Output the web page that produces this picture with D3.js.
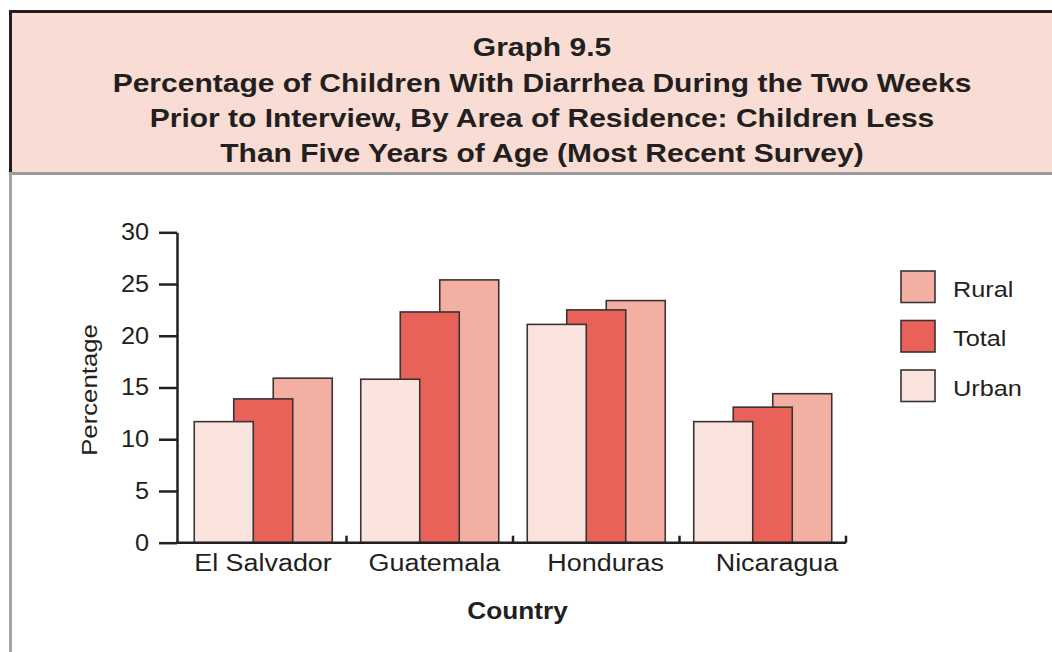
<!DOCTYPE html>
<html>
<head>
<meta charset="utf-8">
<script src="https://cdn.jsdelivr.net/npm/d3@7"></script>
<style>
  html, body { margin: 0; padding: 0; background: #fff; }
  svg { display: block; }
  text { font-family: "Liberation Sans", Arial, sans-serif; fill: #231f20; }
</style>
</head>
<body>
<svg id="chart" width="1052" height="652"></svg>
<script>
// Chart data
const titleLines = [
  "Graph 9.5",
  "Percentage of Children With Diarrhea During the Two Weeks",
  "Prior to Interview, By Area of Residence: Children Less",
  "Than Five Years of Age (Most Recent Survey)"
];
const countries = ["El Salvador", "Guatemala", "Honduras", "Nicaragua"];
const seriesNames = ["Urban", "Total", "Rural"];
const urban = [11.7, 15.8, 21.1, 11.7];
const total = [13.9, 22.3, 22.5, 13.1];
const rural = [15.9, 25.4, 23.4, 14.4];
const yTicks = [0, 5, 10, 15, 20, 25, 30];
const legendOrder = ["Rural", "Total", "Urban"];

const colors = { Urban: "#fce4de", Total: "#e8625a", Rural: "#f3b0a2" };
const values = { Urban: urban, Total: total, Rural: rural };

const svg = d3.select("#chart");
const W = 1052, H = 652;
const ink = "#231f20";
const FONT = "Liberation Sans, Arial, sans-serif";

// widen glyphs horizontally while keeping each text's anchor point fixed
function widen(sel, s) {
  sel.each(function () {
    const t = d3.select(this);
    const x = +t.attr("x") || 0;
    const prev = t.attr("transform") || "";
    t.attr("transform", `${prev} translate(${x * (1 - s)},0) scale(${s},1)`);
  });
}

// Header panel
svg.append("rect").attr("x", 12).attr("y", 13).attr("width", W - 12).attr("height", 160)
  .attr("fill", "#f9dcd3");
svg.append("path").attr("d", `M10.5,${H} L10.5,11.5 L${W},11.5`)
  .attr("fill", "none").attr("stroke", ink).attr("stroke-width", 3);
svg.append("line").attr("x1", 9).attr("x2", W).attr("y1", 173.5).attr("y2", 173.5)
  .attr("stroke", "#9a9a9c").attr("stroke-width", 3);
svg.append("line").attr("x1", 10.5).attr("x2", 10.5).attr("y1", 172).attr("y2", H)
  .attr("stroke", "#a4a4a6").attr("stroke-width", 3);

const titleY = [47, 83.5, 118.5, 153];
const title = svg.append("g").selectAll("text").data(titleLines).join("text")
  .attr("x", 542).attr("y", (d, i) => titleY[i]).attr("dy", "0.35em")
  .attr("text-anchor", "middle").attr("font-weight", "bold").attr("font-size", 25)
  .text(d => d);
widen(title, 1.2);

// Scales
const x0 = d3.scaleBand().domain(countries).range([180, 846]).paddingInner(0).paddingOuter(0);
const xLabelPos = d3.scalePoint().domain(countries).range([262.5, 776.5]);
const y = d3.scaleLinear().domain([0, 30]).range([542.7, 232.3]);
const barW = 59, step = 39.5;
const groupW = barW + step * 2;
const xs = d3.scalePoint().domain(seriesNames).range([0, step * 2]);

// Bars: rural at back, urban in front
const plot = svg.append("g");
["Rural", "Total", "Urban"].forEach(name => {
  plot.append("g").selectAll("rect").data(countries).join("rect")
    .attr("x", c => x0(c) + x0.bandwidth() / 2 - groupW / 2 + xs(name))
    .attr("y", (c, i) => y(values[name][i]))
    .attr("width", barW)
    .attr("height", (c, i) => y(0) - y(values[name][i]))
    .attr("fill", colors[name])
    .attr("stroke", "#3a3335").attr("stroke-width", 1.6);
});

// Y axis
const yAxis = svg.append("g").attr("transform", "translate(177,0)")
  .call(d3.axisLeft(y).tickValues(yTicks).tickSize(18).tickPadding(10).tickSizeOuter(0));
yAxis.select(".domain").attr("stroke", ink).attr("stroke-width", 2.5);
yAxis.selectAll(".tick line").attr("stroke", ink).attr("stroke-width", 2.5);
const yLabels = yAxis.selectAll(".tick text").attr("font-size", 23).attr("fill", ink)
  .style("font-family", FONT);
widen(yLabels, 1.1);

// X axis (labels placed on their own point scale)
const xAxis = svg.append("g").attr("transform", `translate(0,${y(0)})`)
  .call(d3.axisBottom(xLabelPos).tickSize(0).tickSizeOuter(0));
xAxis.select(".domain").attr("d", `M176,0H846`).attr("stroke", ink).attr("stroke-width", 2.5);
const xLabels = xAxis.selectAll(".tick text").attr("font-size", 23).attr("fill", ink)
  .attr("y", 28).attr("dy", null)
  .style("font-family", FONT);
widen(xLabels, 1.17);
// category boundary ticks
const bounds = countries.slice(1).map(c => x0(c)).concat([x0.range()[1]]);
xAxis.append("g").selectAll("line").data(bounds).join("line")
  .attr("x1", d => d).attr("x2", d => d).attr("y1", 0).attr("y2", -7)
  .attr("stroke", ink).attr("stroke-width", 2.5);

// Axis titles
const yTitle = svg.append("text").attr("transform", "translate(97,390) rotate(-90)")
  .attr("text-anchor", "middle").attr("font-size", 23)
  .text("Percentage");
widen(yTitle, 1.12);
const xTitle = svg.append("text").attr("x", 517.5).attr("y", 619)
  .attr("text-anchor", "middle").attr("font-size", 23).attr("font-weight", "bold")
  .text("Country");
widen(xTitle, 1.14);

// Legend
const legend = svg.append("g").attr("transform", "translate(901,271)");
const li = legend.selectAll("g").data(legendOrder).join("g")
  .attr("transform", (d, i) => `translate(0,${i * 49.5})`);
li.append("rect").attr("width", 34).attr("height", 31.5)
  .attr("fill", d => colors[d]).attr("stroke", "#3a3335").attr("stroke-width", 1.6);
const legText = li.append("text").attr("x", 52).attr("y", 26).attr("font-size", 22)
  .text(d => d);
widen(legText, 1.15);
</script>
</body>
</html>
